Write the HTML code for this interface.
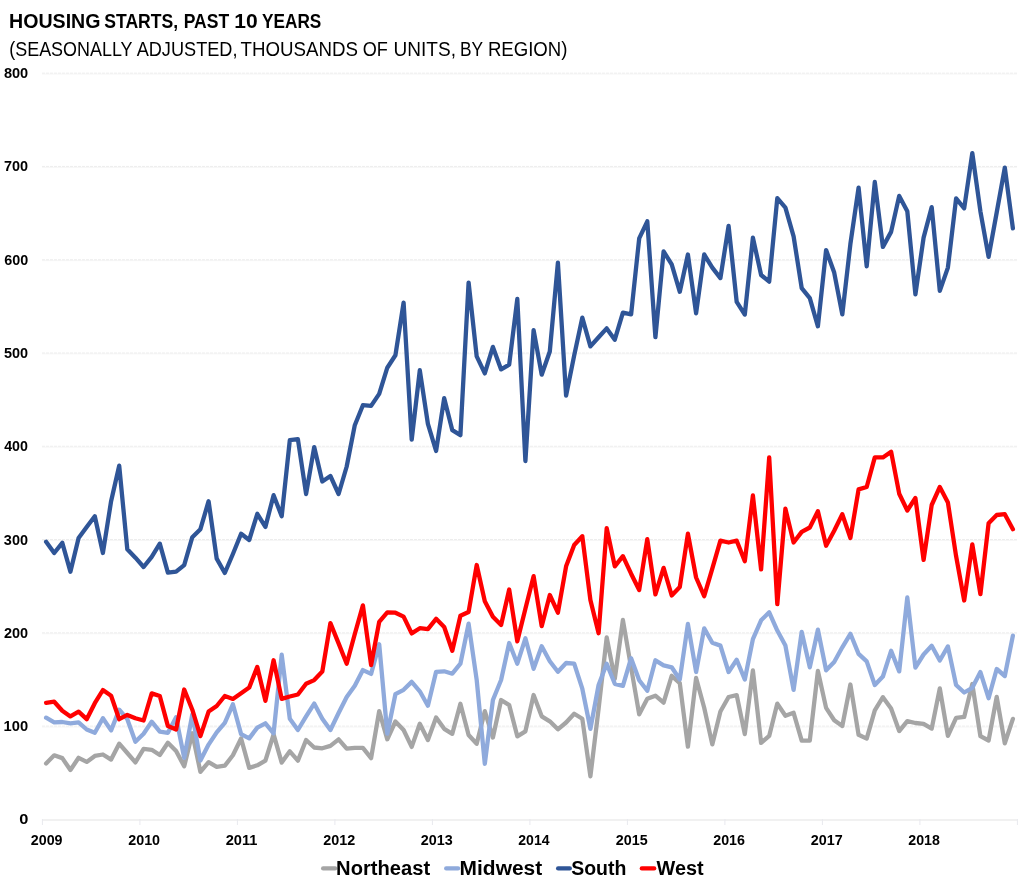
<!DOCTYPE html>
<html lang="en"><head><meta charset="utf-8"><title>Housing Starts, Past 10 Years</title>
<style>html,body{margin:0;padding:0;background:#fff}svg{display:block}text{font-family:"Liberation Sans",Arial,sans-serif;fill:#000}</style></head><body>
<svg width="1024" height="888" viewBox="0 0 1024 888">
<defs><filter id="gs" x="-5%" y="-20%" width="110%" height="140%" color-interpolation-filters="sRGB"><feColorMatrix type="saturate" values="0"/></filter></defs>
<rect width="1024" height="888" fill="#fff"/>
<g filter="url(#gs)">
<text y="28.4" font-size="20.9" font-weight="bold"><tspan x="9.11" textLength="91.36" lengthAdjust="spacingAndGlyphs">HOUSING</tspan> <tspan x="104.23" textLength="73.93" lengthAdjust="spacingAndGlyphs">STARTS,</tspan> <tspan x="183.64" textLength="45.52" lengthAdjust="spacingAndGlyphs">PAST</tspan> <tspan x="234.21" textLength="23.41" lengthAdjust="spacingAndGlyphs">10</tspan> <tspan x="262.06" textLength="59.23" lengthAdjust="spacingAndGlyphs">YEARS</tspan></text>
<text y="55.9" font-size="20.7"><tspan x="9.22" textLength="123.00" lengthAdjust="spacingAndGlyphs">(SEASONALLY</tspan> <tspan x="136.67" textLength="100.80" lengthAdjust="spacingAndGlyphs">ADJUSTED,</tspan> <tspan x="240.51" textLength="117.47" lengthAdjust="spacingAndGlyphs">THOUSANDS</tspan> <tspan x="362.67" textLength="25.14" lengthAdjust="spacingAndGlyphs">OF</tspan> <tspan x="393.57" textLength="62.39" lengthAdjust="spacingAndGlyphs">UNITS,</tspan> <tspan x="460.07" textLength="22.80" lengthAdjust="spacingAndGlyphs">BY</tspan> <tspan x="487.89" textLength="79.59" lengthAdjust="spacingAndGlyphs">REGION)</tspan></text>
</g>
<line x1="42" x2="1017" y1="727.02" y2="727.02" stroke="#f6f6f6" stroke-width="1"/>
<line x1="42" x2="1017" y1="726.12" y2="726.12" stroke="#ededed" stroke-width="1" stroke-dasharray="3 1"/>
<line x1="42" x2="1017" y1="633.74" y2="633.74" stroke="#f6f6f6" stroke-width="1"/>
<line x1="42" x2="1017" y1="632.84" y2="632.84" stroke="#ededed" stroke-width="1" stroke-dasharray="3 1"/>
<line x1="42" x2="1017" y1="540.46" y2="540.46" stroke="#f6f6f6" stroke-width="1"/>
<line x1="42" x2="1017" y1="539.56" y2="539.56" stroke="#ededed" stroke-width="1" stroke-dasharray="3 1"/>
<line x1="42" x2="1017" y1="447.18" y2="447.18" stroke="#f6f6f6" stroke-width="1"/>
<line x1="42" x2="1017" y1="446.28" y2="446.28" stroke="#ededed" stroke-width="1" stroke-dasharray="3 1"/>
<line x1="42" x2="1017" y1="353.90" y2="353.90" stroke="#f6f6f6" stroke-width="1"/>
<line x1="42" x2="1017" y1="353.00" y2="353.00" stroke="#ededed" stroke-width="1" stroke-dasharray="3 1"/>
<line x1="42" x2="1017" y1="260.62" y2="260.62" stroke="#f6f6f6" stroke-width="1"/>
<line x1="42" x2="1017" y1="259.72" y2="259.72" stroke="#ededed" stroke-width="1" stroke-dasharray="3 1"/>
<line x1="42" x2="1017" y1="167.34" y2="167.34" stroke="#f6f6f6" stroke-width="1"/>
<line x1="42" x2="1017" y1="166.44" y2="166.44" stroke="#ededed" stroke-width="1" stroke-dasharray="3 1"/>
<line x1="42" x2="1017" y1="74.06" y2="74.06" stroke="#f6f6f6" stroke-width="1"/>
<line x1="42" x2="1017" y1="73.16" y2="73.16" stroke="#ededed" stroke-width="1" stroke-dasharray="3 1"/>
<line x1="42" x2="1017" y1="820" y2="820" stroke="#f1f1f1" stroke-width="2"/>
<line x1="42.40" x2="42.40" y1="819" y2="825" stroke="#e8e9ee" stroke-width="1"/>
<line x1="139.90" x2="139.90" y1="819" y2="825" stroke="#e8e9ee" stroke-width="1"/>
<line x1="237.40" x2="237.40" y1="819" y2="825" stroke="#e8e9ee" stroke-width="1"/>
<line x1="334.90" x2="334.90" y1="819" y2="825" stroke="#e8e9ee" stroke-width="1"/>
<line x1="432.40" x2="432.40" y1="819" y2="825" stroke="#e8e9ee" stroke-width="1"/>
<line x1="529.90" x2="529.90" y1="819" y2="825" stroke="#e8e9ee" stroke-width="1"/>
<line x1="627.40" x2="627.40" y1="819" y2="825" stroke="#e8e9ee" stroke-width="1"/>
<line x1="724.90" x2="724.90" y1="819" y2="825" stroke="#e8e9ee" stroke-width="1"/>
<line x1="822.40" x2="822.40" y1="819" y2="825" stroke="#e8e9ee" stroke-width="1"/>
<line x1="919.90" x2="919.90" y1="819" y2="825" stroke="#e8e9ee" stroke-width="1"/>
<line x1="1017.40" x2="1017.40" y1="819" y2="825" stroke="#e8e9ee" stroke-width="1"/>
<g filter="url(#gs)">
<text x="19.15" y="824.00" font-size="14.6" font-weight="bold" textLength="9.13" lengthAdjust="spacingAndGlyphs">0</text>
<text x="3.56" y="731.00" font-size="14.6" font-weight="bold" textLength="24.52" lengthAdjust="spacingAndGlyphs">100</text>
<text x="3.98" y="638.00" font-size="14.6" font-weight="bold" textLength="24.15" lengthAdjust="spacingAndGlyphs">200</text>
<text x="3.87" y="545.00" font-size="14.6" font-weight="bold" textLength="24.15" lengthAdjust="spacingAndGlyphs">300</text>
<text x="4.20" y="451.00" font-size="14.6" font-weight="bold" textLength="23.78" lengthAdjust="spacingAndGlyphs">400</text>
<text x="4.01" y="358.00" font-size="14.6" font-weight="bold" textLength="24.11" lengthAdjust="spacingAndGlyphs">500</text>
<text x="4.19" y="265.00" font-size="14.6" font-weight="bold" textLength="23.95" lengthAdjust="spacingAndGlyphs">600</text>
<text x="4.01" y="171.00" font-size="14.6" font-weight="bold" textLength="24.13" lengthAdjust="spacingAndGlyphs">700</text>
<text x="3.91" y="78.00" font-size="14.6" font-weight="bold" textLength="24.31" lengthAdjust="spacingAndGlyphs">800</text>
<text x="30.77" y="845.00" font-size="14.6" font-weight="bold" textLength="31.75" lengthAdjust="spacingAndGlyphs">2009</text>
<text x="128.24" y="845.00" font-size="14.6" font-weight="bold" textLength="31.83" lengthAdjust="spacingAndGlyphs">2010</text>
<text x="225.68" y="845.00" font-size="14.6" font-weight="bold" textLength="31.71" lengthAdjust="spacingAndGlyphs">2011</text>
<text x="323.25" y="845.00" font-size="14.6" font-weight="bold" textLength="31.94" lengthAdjust="spacingAndGlyphs">2012</text>
<text x="420.72" y="845.00" font-size="14.6" font-weight="bold" textLength="31.89" lengthAdjust="spacingAndGlyphs">2013</text>
<text x="518.31" y="845.00" font-size="14.6" font-weight="bold" textLength="31.24" lengthAdjust="spacingAndGlyphs">2014</text>
<text x="615.80" y="845.00" font-size="14.6" font-weight="bold" textLength="31.80" lengthAdjust="spacingAndGlyphs">2015</text>
<text x="713.24" y="845.00" font-size="14.6" font-weight="bold" textLength="31.69" lengthAdjust="spacingAndGlyphs">2016</text>
<text x="810.72" y="845.00" font-size="14.6" font-weight="bold" textLength="31.89" lengthAdjust="spacingAndGlyphs">2017</text>
<text x="908.25" y="845.00" font-size="14.6" font-weight="bold" textLength="31.58" lengthAdjust="spacingAndGlyphs">2018</text>
</g>
<polyline fill="none" stroke="#A5A5A5" stroke-width="4.3" stroke-linejoin="round" stroke-linecap="round" points="46.1,763.4 54.2,755.3 62.3,758.1 70.4,770.0 78.6,757.8 86.7,761.9 94.8,755.9 102.9,754.5 111.1,759.6 119.2,743.7 127.3,753.0 135.4,762.4 143.6,748.9 151.7,749.8 159.8,755.0 167.9,742.7 176.1,751.1 184.2,766.3 192.3,733.3 200.4,771.9 208.6,762.1 216.7,766.8 224.8,765.7 232.9,755.3 241.1,738.5 249.2,767.9 257.3,765.3 265.4,760.6 273.6,734.4 281.7,762.6 289.8,751.3 297.9,760.6 306.1,740.0 314.2,747.5 322.3,748.3 330.4,745.9 338.6,739.3 346.7,748.7 354.8,747.8 362.9,747.8 371.1,758.1 379.2,711.1 387.3,739.3 395.4,721.5 403.6,730.0 411.7,746.9 419.8,723.7 427.9,740.0 436.1,717.5 444.2,728.8 452.3,733.8 460.4,703.8 468.6,735.0 476.7,743.8 484.8,711.2 492.9,737.5 501.1,700.0 509.2,705.1 517.3,736.3 525.4,731.3 533.6,695.0 541.7,716.3 549.8,721.3 557.9,729.3 566.1,722.5 574.2,713.7 582.3,718.8 590.4,776.3 598.6,708.8 606.7,637.5 614.8,678.8 622.9,620.0 631.1,667.5 639.2,714.3 647.3,698.8 655.4,695.7 663.6,702.6 671.7,675.8 679.8,683.2 687.9,746.7 696.1,678.0 704.2,707.8 712.3,744.4 720.4,711.5 728.6,697.0 736.7,695.1 744.8,734.1 752.9,670.5 761.1,742.9 769.2,735.9 777.3,703.6 785.4,715.8 793.6,712.8 801.7,740.6 809.8,740.6 817.9,671.0 826.1,707.9 834.2,720.2 842.3,726.0 850.4,684.5 858.6,734.8 866.7,738.6 874.8,710.4 882.9,697.2 891.1,708.5 899.2,731.1 907.3,721.1 915.4,723.0 923.6,723.9 931.7,728.6 939.8,688.4 947.9,735.8 956.1,717.8 964.2,716.9 972.3,684.0 980.4,736.1 988.6,740.5 996.7,696.9 1004.8,743.3 1012.9,718.9"/>
<polyline fill="none" stroke="#8FAADC" stroke-width="4.3" stroke-linejoin="round" stroke-linecap="round" points="46.1,717.7 54.2,722.4 62.3,722.0 70.4,723.3 78.6,722.4 86.7,729.5 94.8,732.8 102.9,718.2 111.1,730.4 119.2,709.7 127.3,719.2 135.4,741.7 143.6,733.7 151.7,721.7 159.8,731.7 167.9,732.8 176.1,717.3 184.2,757.8 192.3,714.5 200.4,760.6 208.6,744.6 216.7,732.4 224.8,722.8 232.9,704.3 241.1,734.1 249.2,738.4 257.3,727.6 265.4,723.3 273.6,733.3 281.7,654.7 289.8,718.7 297.9,730.0 306.1,716.4 314.2,703.6 322.3,718.7 330.4,730.0 338.6,713.0 346.7,697.0 354.8,685.8 362.9,670.1 371.1,673.9 379.2,644.3 387.3,733.7 395.4,694.2 403.6,689.8 411.7,681.9 419.8,691.3 427.9,705.7 436.1,671.8 444.2,671.3 452.3,673.7 460.4,663.7 468.6,623.7 476.7,680.0 484.8,763.8 492.9,700.0 501.1,680.0 509.2,643.0 517.3,663.7 525.4,638.3 533.6,668.8 541.7,646.3 549.8,661.2 557.9,671.8 566.1,663.0 574.2,663.7 582.3,688.7 590.4,728.8 598.6,685.0 606.7,663.7 614.8,683.8 622.9,685.8 631.1,658.2 639.2,680.2 647.3,690.8 655.4,660.3 663.6,665.4 671.7,667.3 679.8,679.5 687.9,624.0 696.1,672.0 704.2,628.4 712.3,642.8 720.4,645.6 728.6,672.0 736.7,659.7 744.8,679.5 752.9,639.1 761.1,620.3 769.2,612.3 777.3,630.6 785.4,645.6 793.6,689.9 801.7,631.9 809.8,667.3 817.9,629.7 826.1,670.3 834.2,662.0 842.3,647.3 850.4,633.8 858.6,653.9 866.7,661.4 874.8,685.0 882.9,676.5 891.1,650.8 899.2,671.4 907.3,597.5 915.4,667.5 923.6,654.5 931.7,645.8 939.8,660.5 947.9,646.4 956.1,685.0 964.2,692.5 972.3,687.8 980.4,672.1 988.6,698.2 996.7,669.0 1004.8,676.0 1012.9,635.7"/>
<polyline fill="none" stroke="#2F5597" stroke-width="4.3" stroke-linejoin="round" stroke-linecap="round" points="46.1,541.8 54.2,553.0 62.3,542.8 70.4,571.7 78.6,538.1 86.7,526.9 94.8,516.2 102.9,553.0 111.1,501.2 119.2,465.7 127.3,549.3 135.4,557.7 143.6,567.0 151.7,556.8 159.8,543.7 167.9,572.6 176.1,571.7 184.2,565.1 192.3,537.2 200.4,529.2 208.6,501.2 216.7,558.6 224.8,573.0 232.9,554.0 241.1,533.7 249.2,540.0 257.3,513.8 265.4,526.9 273.6,495.2 281.7,516.2 289.8,440.2 297.9,439.2 306.1,494.0 314.2,447.1 322.3,481.5 330.4,476.0 338.6,494.0 346.7,466.5 354.8,425.2 362.9,405.2 371.1,405.9 379.2,393.9 387.3,367.7 395.4,355.3 403.6,302.7 411.7,439.7 419.8,370.2 427.9,423.9 436.1,451.0 444.2,398.2 452.3,430.2 460.4,435.2 468.6,282.6 476.7,356.4 484.8,373.4 492.9,346.9 501.1,369.4 509.2,364.6 517.3,298.9 525.4,461.0 533.6,330.1 541.7,374.7 549.8,351.5 557.9,262.6 566.1,395.7 574.2,355.3 582.3,317.7 590.4,346.4 598.6,337.2 606.7,328.4 614.8,339.7 622.9,312.6 631.1,314.4 639.2,238.4 647.3,221.3 655.4,337.2 663.6,251.4 671.7,264.4 679.8,291.8 687.9,254.5 696.1,313.3 704.2,254.5 712.3,267.6 720.4,278.1 728.6,225.9 736.7,301.9 744.8,314.6 752.9,237.7 761.1,275.0 769.2,281.6 777.3,198.1 785.4,207.6 793.6,236.3 801.7,288.1 809.8,298.2 817.9,326.3 826.1,250.1 834.2,272.6 842.3,314.4 850.4,243.9 858.6,187.6 866.7,266.4 874.8,181.9 882.9,246.9 891.1,231.9 899.2,195.9 907.3,211.3 915.4,294.4 923.6,237.6 931.7,207.1 939.8,290.9 947.9,267.6 956.1,198.4 964.2,208.3 972.3,153.1 980.4,211.3 988.6,256.9 996.7,212.5 1004.8,167.6 1012.9,228.4"/>
<polyline fill="none" stroke="#FF0000" stroke-width="4.3" stroke-linejoin="round" stroke-linecap="round" points="46.1,702.8 54.2,701.7 62.3,710.8 70.4,716.4 78.6,711.7 86.7,719.2 94.8,703.2 102.9,690.0 111.1,695.7 119.2,719.2 127.3,714.9 135.4,718.2 143.6,720.5 151.7,693.4 159.8,696.0 167.9,726.1 176.1,729.5 184.2,689.5 192.3,709.7 200.4,736.1 208.6,711.6 216.7,706.0 224.8,696.0 232.9,698.9 241.1,693.2 249.2,687.6 257.3,666.9 265.4,700.8 273.6,660.3 281.7,698.9 289.8,696.5 297.9,694.5 306.1,683.8 314.2,680.1 322.3,671.6 330.4,623.1 338.6,643.4 346.7,663.7 354.8,634.0 362.9,605.4 371.1,665.0 379.2,621.8 387.3,612.3 395.4,612.7 403.6,616.6 411.7,633.4 419.8,628.2 427.9,629.2 436.1,618.8 444.2,627.0 452.3,650.8 460.4,615.7 468.6,612.0 476.7,565.0 484.8,601.2 492.9,616.7 501.1,625.0 509.2,589.5 517.3,641.3 525.4,608.7 533.6,576.2 541.7,626.2 549.8,595.0 557.9,612.7 566.1,566.3 574.2,545.0 582.3,536.2 590.4,599.9 598.6,633.2 606.7,528.2 614.8,566.3 622.9,556.2 631.1,573.7 639.2,590.0 647.3,539.2 655.4,594.4 663.6,567.9 671.7,595.5 679.8,587.0 687.9,533.7 696.1,577.5 704.2,596.2 712.3,568.7 720.4,540.7 728.6,542.5 736.7,540.7 744.8,561.2 752.9,495.5 761.1,569.4 769.2,457.4 777.3,604.2 785.4,508.7 793.6,542.5 801.7,531.9 809.8,527.5 817.9,511.2 826.1,545.7 834.2,530.7 842.3,514.2 850.4,538.0 858.6,489.4 866.7,487.0 874.8,457.4 882.9,457.4 891.1,451.7 899.2,493.7 907.3,510.5 915.4,498.0 923.6,559.9 931.7,505.0 939.8,487.0 947.9,502.5 956.1,556.2 964.2,600.5 972.3,544.4 980.4,594.2 988.6,523.2 996.7,515.0 1004.8,514.2 1012.9,529.2"/>
<line x1="323.1" x2="335.1" y1="868.4" y2="868.4" stroke="#A5A5A5" stroke-width="4.3" stroke-linecap="round"/>
<line x1="446.2" x2="458.1" y1="868.4" y2="868.4" stroke="#8FAADC" stroke-width="4.3" stroke-linecap="round"/>
<line x1="558.1" x2="569.8" y1="868.4" y2="868.4" stroke="#2F5597" stroke-width="4.3" stroke-linecap="round"/>
<line x1="641.8" x2="654.2" y1="868.4" y2="868.4" stroke="#FF0000" stroke-width="4.3" stroke-linecap="round"/>
<g filter="url(#gs)">
<text x="336.12" y="875.00" font-size="20.7" font-weight="bold" textLength="94.04" lengthAdjust="spacingAndGlyphs">Northeast</text>
<text x="459.62" y="875.00" font-size="20.7" font-weight="bold" textLength="82.56" lengthAdjust="spacingAndGlyphs">Midwest</text>
<text x="571.18" y="875.00" font-size="20.7" font-weight="bold" textLength="55.20" lengthAdjust="spacingAndGlyphs">South</text>
<text x="656.50" y="875.00" font-size="20.7" font-weight="bold" textLength="47.10" lengthAdjust="spacingAndGlyphs">West</text>
</g>
</svg></body></html>
